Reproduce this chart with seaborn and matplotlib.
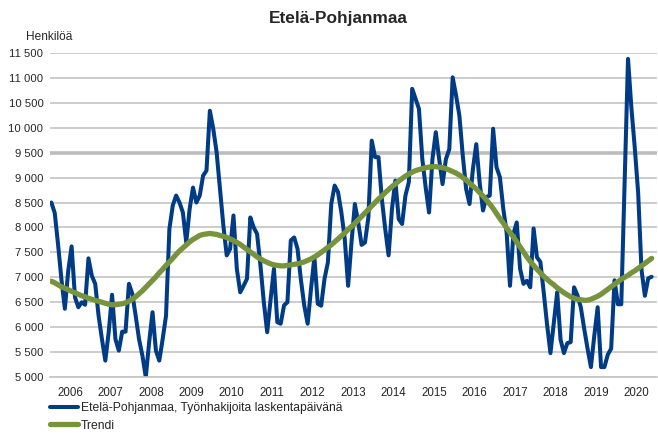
import numpy as np
import pandas as pd
import matplotlib
matplotlib.use("Agg")
import matplotlib.pyplot as plt
import seaborn as sns

# monthly values, Jan 2006 .. Nov 2020
jobseekers = [
    8500, 8290, 7650, 6950, 6370, 7130, 7620, 6600, 6400, 6500, 6450, 7380,
    7030, 6870, 6230, 5760, 5330, 5900, 6650, 5760, 5530, 5910, 5910, 6870,
    6670, 6230, 5760, 5430, 5000, 5700, 6300, 5530, 5330, 5760, 6230, 7970,
    8440, 8640, 8500, 8300, 7700, 8370, 8800, 8500, 8640, 9040, 9140, 10340,
    9980, 9510, 8770, 8040, 7440, 7570, 8240, 7170, 6700, 6830, 6970, 8200,
    8000, 7870, 7240, 6500, 5900, 6550, 7170, 6100, 6070, 6440, 6500, 7740,
    7800, 7570, 6950, 6430, 6070, 6770, 7400, 6470, 6430, 6970, 7300, 8470,
    8840, 8710, 8300, 7770, 6830, 7700, 8470, 8100, 7650, 7700, 8200, 9740,
    9410, 9410, 8570, 7970, 7440, 8370, 8940, 8170, 8070, 8640, 8910, 10780,
    10580, 10380, 9370, 8800, 8300, 9370, 9910, 9370, 8870, 9370, 9570, 11010,
    10650, 10240, 9440, 8770, 8470, 9170, 9670, 8900, 8340, 8610, 8640, 9980,
    9210, 9010, 8380, 7900, 6830, 7870, 8100, 7170, 6870, 6930, 6800, 7980,
    7400, 7310, 6700, 6050, 5480, 6100, 6700, 5750, 5480, 5680, 5700, 6800,
    6640, 6400, 5970, 5570, 5200, 5830, 6400, 5200, 5200, 5450, 5570, 6940,
    6460, 6460, 8900, 11380, 10400, 9600, 8700, 7150, 6630, 6980, 7010,
]

trend = [
    6920, 6890, 6850, 6810, 6780, 6750, 6720, 6690, 6660, 6630, 6610, 6580,
    6560, 6540, 6520, 6500, 6480, 6460, 6450, 6450, 6460, 6470, 6490, 6520,
    6560, 6610, 6670, 6730, 6800, 6870, 6940, 7010, 7090, 7160, 7240, 7310,
    7380, 7460, 7530, 7590, 7650, 7710, 7760, 7800, 7840, 7860, 7870, 7880,
    7870, 7860, 7840, 7820, 7800, 7770, 7740, 7700, 7660, 7610, 7560, 7510,
    7460, 7410, 7370, 7330, 7300, 7270, 7250, 7240, 7230, 7230, 7240, 7250,
    7260, 7270, 7290, 7310, 7340, 7370, 7410, 7450, 7500, 7550, 7600, 7650,
    7710, 7770, 7830, 7890, 7960, 8020, 8080, 8150, 8220, 8290, 8360, 8430,
    8500, 8570, 8630, 8700, 8760, 8820, 8870, 8930, 8980, 9030, 9070, 9110,
    9140, 9160, 9180, 9200, 9210, 9220, 9220, 9210, 9200, 9180, 9150, 9120,
    9090, 9050, 9000, 8950, 8890, 8830, 8770, 8700, 8630, 8550, 8470, 8380,
    8280, 8180, 8090, 7990, 7900, 7810, 7710, 7610, 7510, 7410, 7320, 7240,
    7160, 7090, 7020, 6960, 6900, 6850, 6790, 6740, 6690, 6650, 6610, 6580,
    6560, 6550, 6540, 6540, 6560, 6590, 6620, 6660, 6710, 6760, 6810, 6860,
    6910, 6960, 7000, 7040, 7090, 7130, 7180, 7230, 7280, 7330, 7380,
]

years = list(range(2006, 2021))
y_ticks = list(range(5000, 12000, 500))

df = pd.DataFrame({"month": range(len(jobseekers)),
                   "jobseekers": jobseekers,
                   "trend": trend})

sns.set_theme(style="white")
plt.rcParams["font.family"] = ["Liberation Sans", "DejaVu Sans"]

blue = "#003B86"
green = "#77933C"
grid_col = "#C4C4C4"

fig = plt.figure(figsize=(6.58, 4.41), dpi=100)
ax = fig.add_axes([0.0755, 0.145, 0.9225, 0.735])

sns.lineplot(data=df, x="month", y="jobseekers", ax=ax, color=blue,
             linewidth=2.9, label="Etelä-Pohjanmaa, Työnhakijoita laskentapäivänä")
sns.lineplot(data=df, x="month", y="trend", ax=ax, color=green,
             linewidth=3.8, label="Trendi")

ax.set_xlim(-0.5, 179.5)
ax.set_ylim(5000, 11500)
ax.set_yticks(y_ticks)
ax.set_yticklabels([f"{v:,}".replace(",", "\u00a0") for v in y_ticks], fontsize=8.1)
ax.set_xticks([5.5 + 12 * i for i in range(len(years))])
ax.set_xticklabels([str(y) for y in years], fontsize=8.3)
ax.tick_params(axis="both", length=0)
ax.tick_params(axis="y", pad=4.5)
ax.tick_params(axis="x", pad=7.5)
ax.set_xlabel("")
ax.set_ylabel("")

ax.grid(axis="y", color=grid_col, linewidth=1.2)
ax.grid(axis="x", visible=False)
for line, v in zip(ax.get_ygridlines(), y_ticks):
    if v == 9500:
        line.set_linewidth(2.6)
        line.set_color("#BDBDBD")
ax.set_axisbelow(True)
for s in ["top", "right", "left"]:
    ax.spines[s].set_visible(False)
ax.spines["bottom"].set_color(grid_col)
ax.spines["bottom"].set_linewidth(1.2)

fig.text(0.514, 0.959, "Etelä-Pohjanmaa", ha="center", va="center",
         fontsize=12.4, fontweight="bold")
fig.text(0.040, 0.917, "Henkilöä", ha="left", va="center", fontsize=8.6)

ax.legend(loc="upper left", bbox_to_anchor=(0.076, 0.088),
          bbox_transform=fig.transFigure, frameon=False, fontsize=8.7,
          handlelength=2.3, handletextpad=0.25, labelspacing=0.45,
          borderaxespad=0, borderpad=0)

fig.savefig("out.png", dpi=100)
